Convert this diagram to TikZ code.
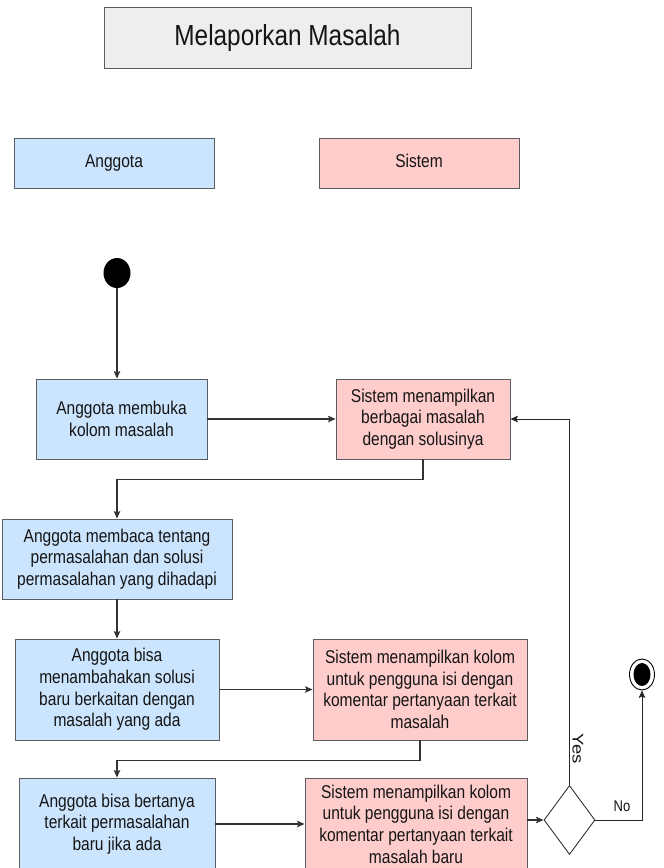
\documentclass[tikz,border=0pt]{standalone}
\usepackage{fontspec}
\setmainfont{Liberation Sans}[FakeStretch=0.84]
\newfontfamily\yesfont{Liberation Sans}[FakeStretch=1.19]
\usetikzlibrary{shapes.geometric,arrows.meta}
\definecolor{bluefill}{HTML}{CCE5FF}
\definecolor{pinkfill}{HTML}{FFCCCC}
\definecolor{grayfill}{HTML}{EEEEEE}
\definecolor{borderc}{HTML}{5A5C60}
\definecolor{linec}{HTML}{333333}
\definecolor{textc}{HTML}{151515}
\tikzset{
  box/.style={draw=borderc, line width=0.9pt, rectangle, align=center, inner sep=2pt,
    text=textc, font=\fontsize{18.5}{21.6}\selectfont},
  bluebox/.style={box, fill=bluefill},
  pinkbox/.style={box, fill=pinkfill},
  conn/.style={draw=linec, line width=1.2pt, -{Stealth[length=7.5pt,width=6.5pt,inset=1.5pt]}},
  thinconn/.style={draw=black!85, line width=0.9pt, -{Stealth[length=7.5pt,width=6.5pt,inset=1.5pt]}},
  lbl/.style={text=textc, font=\fontsize{15.5}{18}\selectfont, inner sep=0pt}
}
\begin{document}
\begin{tikzpicture}[x=1pt,y=-1pt]
\useasboundingbox (0,0) rectangle (664,868);
\clip (0,0) rectangle (664,868);
\fill[white] (0,0) rectangle (664,868);
% title and lanes
\node[box, fill=grayfill, minimum width=367pt, minimum height=61pt,
      font=\fontsize{29}{33}\selectfont] (title) at (287.5,38) {Melaporkan Masalah};
\node[bluebox, minimum width=200pt, minimum height=50pt] (hA) at (114,163) {\strut Anggota};
\node[pinkbox, minimum width=200pt, minimum height=50pt] (hS) at (419,163) {\strut Sistem};
% start
\node[ellipse, fill=black, minimum width=27pt, minimum height=30pt, inner sep=0pt] (start) at (117,273) {};
% activities
\node[bluebox, minimum width=171pt, minimum height=80pt] (b1) at (121.5,419) {Anggota membuka\\kolom masalah};
\node[pinkbox, minimum width=174pt, minimum height=80pt] (b2) at (423,419) {Sistem menampilkan\\berbagai masalah\\dengan solusinya};
\node[bluebox, minimum width=230pt, minimum height=80pt] (b3) at (117,559) {Anggota membaca tentang\\permasalahan dan solusi\\permasalahan yang dihadapi};
\node[bluebox, minimum width=204pt, minimum height=101pt] (b4) at (117,689.5) {Anggota bisa\\menambahakan solusi\\baru berkaitan dengan\\masalah yang ada};
\node[pinkbox, minimum width=214pt, minimum height=101pt] (b5) at (420,689.5) {Sistem menampilkan kolom\\untuk pengguna isi dengan\\komentar pertanyaan terkait\\masalah};
\node[bluebox, minimum width=196pt, minimum height=92pt] (b6) at (117,824) {Anggota bisa bertanya\\terkait permasalahan\\baru jika ada};
\node[pinkbox, minimum width=222pt, minimum height=92pt] (b7) at (416,824) {Sistem menampilkan kolom\\untuk pengguna isi dengan\\komentar pertanyaan terkait\\masalah baru};
% decision
\node[diamond, draw=black!80, line width=0.9pt, fill=white, minimum width=51pt, minimum height=69pt, inner sep=0pt, aspect=0.74] (d) at (569.5,820) {};
% final
\node[ellipse, draw=black, line width=0.9pt, fill=white, minimum width=25pt, minimum height=31pt, inner sep=0pt] (fin) at (642,674.5) {};
\fill[black] (fin.center) ellipse [x radius=8.5pt, y radius=11.5pt];
% connectors
\draw[conn] (start) -- (start |- b1.north);
\draw[conn] (b1.east) -- (b2.west);
\draw[conn] (b2.south) -- ++(0,20) -| (b3.north);
\draw[conn] (b3.south) -- (b4.north);
\draw[conn] (b4.east) -- (b4.east -| b5.west);
\draw[conn] (b5.south) -- ++(0,20) -| (b6.north);
\draw[conn] (b6.east) -- (b6.east -| b7.west);
\draw[conn] (d.west -| b7.east) -- (d.west);
\draw[thinconn] (d.north) |- (b2.east);
\draw[thinconn] (d.east) -| (fin.south);
% labels
\node[lbl, rotate=-90, font=\yesfont\fontsize{15.5}{18}\selectfont] (yes) at (578,749) {Yes};
\node[lbl] (no) at (622,806) {No};
\end{tikzpicture}
\end{document}
